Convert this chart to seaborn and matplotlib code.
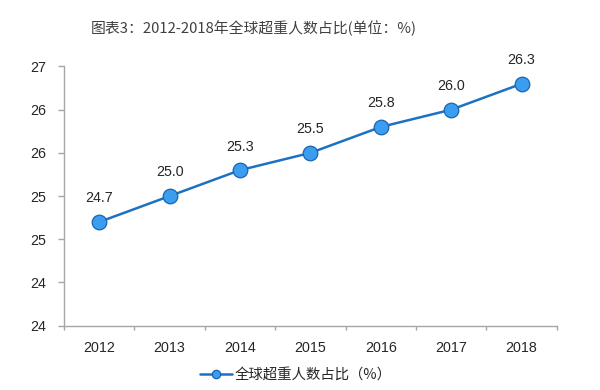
import math
import matplotlib
matplotlib.use("Agg")
import matplotlib.pyplot as plt
from matplotlib.ticker import FuncFormatter, FixedLocator
import seaborn as sns
import pandas as pd

years = ["2012", "2013", "2014", "2015", "2016", "2017", "2018"]
values = [24.7, 25.0, 25.3, 25.5, 25.8, 26.0, 26.3]
series_name = "全球超重人数占比（%）"
title = "图表3：2012-2018年全球超重人数占比(单位：%)"
y_ticks = [23.5, 24.0, 24.5, 25.0, 25.5, 26.0, 26.5]

sns.set_theme(style="white")
plt.rcParams["font.family"] = ["Liberation Sans", "DejaVu Sans"]

df = pd.DataFrame({"year": years, "value": values})

fig = plt.figure(figsize=(6, 3.9), dpi=100)
ax = fig.add_axes([0.1067, 0.165, 0.8213, 0.6645])

line_color = "#1c72c0"
sns.lineplot(data=df, x="year", y="value", ax=ax, color=line_color, linewidth=1.8,
             marker="o", markersize=10.5, markerfacecolor="#3a9df0",
             markeredgecolor="#1a64ad", markeredgewidth=0.9, label=series_name,
             sort=False)

for i, v in enumerate(values):
    ax.annotate(f"{v:.1f}", (i, v), xytext=(0, 17), textcoords="offset points",
                ha="center", va="center", fontsize=10.3, color="#262626")

ax.set_xlim(-0.5, len(years) - 0.5)
ax.set_ylim(y_ticks[0], y_ticks[-1])
ax.yaxis.set_major_locator(FixedLocator(y_ticks))
ax.yaxis.set_major_formatter(FuncFormatter(lambda v, p: f"{math.floor(v + 0.5):d}"))
ax.set_xticks(range(len(years)))
ax.set_xticks([i - 0.5 for i in range(len(years) + 1)], minor=True)

ax.set_xlabel("")
ax.set_ylabel("")
for s in ["top", "right"]:
    ax.spines[s].set_visible(False)
for s in ["left", "bottom"]:
    ax.spines[s].set_color("#a6a6a6")
    ax.spines[s].set_linewidth(1.0)

ax.tick_params(axis="y", which="major", left=True, length=4, width=1, color="#a6a6a6",
               pad=9, labelsize=10.3, labelcolor="#262626")
ax.tick_params(axis="x", which="major", bottom=False, pad=5, labelsize=10.3,
               labelcolor="#262626")
ax.tick_params(axis="x", which="minor", bottom=True, length=3, width=1, color="#a6a6a6")

leg = ax.legend(loc="center", bbox_to_anchor=(296 / 600, 1 - 375 / 390),
                bbox_transform=fig.transFigure, frameon=False, handlelength=2.2,
                handletextpad=0.2, prop={"family": ["Noto Sans CJK SC", "DejaVu Sans"],
                                         "size": 10.4})
for t in leg.get_texts():
    t.set_color("#262626")
for h in leg.legend_handles:
    h.set_markersize(6)

fig.text(254 / 600, 1 - 28 / 390, title, ha="center", va="center", fontsize=10.7,
         color="#404040", family=["Noto Sans CJK SC", "DejaVu Sans"])

fig.savefig("out.png", dpi=100, facecolor="white")
